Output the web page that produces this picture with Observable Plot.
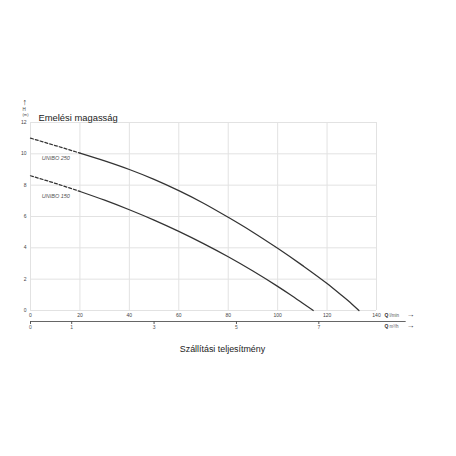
<!DOCTYPE html>
<html><head><meta charset="utf-8">
<script src="https://cdn.jsdelivr.net/npm/d3@7"></script>
<script src="https://cdn.jsdelivr.net/npm/@observablehq/plot@0.6"></script>
<style>body{margin:0;background:#fff;} svg{display:block}</style>
</head><body><div id="chart"></div>
<script>
// Data
const flowUnibo250 = [0, 10, 20, 30, 40, 50, 60, 70, 80, 90, 100, 110, 120, 125, 130, 132.9];
const headUnibo250 = [11.0, 10.53, 10.05, 9.55, 9.0, 8.37, 7.65, 6.85, 5.95, 5.0, 3.97, 2.88, 1.72, 1.08, 0.42, 0];
const flowUnibo150 = [0, 10, 20, 30, 40, 50, 60, 70, 80, 90, 100, 105, 110, 114.4];
const headUnibo150 = [8.6, 8.12, 7.6, 7.04, 6.43, 5.77, 5.05, 4.27, 3.43, 2.52, 1.54, 1.02, 0.48, 0];
const models = ["UNIBO 250", "UNIBO 150"];
const dashEnd = 20; // extrapolated (dashed) part ends here
const xTicks = [0, 20, 40, 60, 80, 100, 120, 140];
const yTicks = [0, 2, 4, 6, 8, 10, 12];
const m3hTicks = [0, 1, 3, 5, 7];
const axisEnd = 152; // lower axis line extends past the plot
const yTitle = "Emelési magasság";
const xTitle = "Szállítási teljesítmény";

const rows = [];
flowUnibo250.forEach((q, i) => rows.push({model: models[0], q, h: headUnibo250[i]}));
flowUnibo150.forEach((q, i) => rows.push({model: models[1], q, h: headUnibo150[i]}));
const dashedPart = rows.filter(d => d.q <= dashEnd);
const solidPart = rows.filter(d => d.q >= dashEnd);
const labelAnchors = rows.filter(d => d.q === dashEnd);

const lpmToM3h = v => v * 60 / 1000;
const m3hToLpm = v => v * 1000 / 60;

const small = 5;
const chart = Plot.plot({
  width: 456, height: 456,
  marginLeft: 30, marginRight: 80, marginTop: 122, marginBottom: 146,
  style: {fontFamily: "'Liberation Sans', Arial, sans-serif", background: "#fff", color: "#333"},
  x: {domain: [0, 140]},
  y: {domain: [0, 12]},
  marks: [
    Plot.gridX(xTicks, {stroke: "#e2e2e2", strokeOpacity: 1}),
    Plot.gridY(yTicks, {stroke: "#e2e2e2", strokeOpacity: 1}),
    Plot.axisY(yTicks, {tickSize: 0, tickPadding: 4, fontSize: small, label: null, color: "#444"}),
    Plot.axisX(xTicks, {tickSize: 0, tickPadding: 3, fontSize: small, label: null, color: "#444"}),
    Plot.ruleY([0], {x1: 0, x2: axisEnd, dy: 11, stroke: "#666", clip: false}),
    Plot.axisX(m3hTicks.map(m3hToLpm), {tickSize: 3, tickPadding: 1, dy: 11, fontSize: small, label: null, color: "#555",
      tickFormat: v => String(Math.round(lpmToM3h(v) * 10) / 10)}),
    Plot.line(dashedPart, {x: "q", y: "h", z: "model", stroke: "#333", strokeWidth: 1.25, strokeDasharray: "3,2", curve: "monotone-x"}),
    Plot.line(solidPart, {x: "q", y: "h", z: "model", stroke: "#333", strokeWidth: 1.25, curve: "monotone-x"}),
    Plot.text(labelAnchors, {x: "q", y: "h", text: "model", textAnchor: "end", dx: -10, dy: 5, fontSize: 5.5, fontStyle: "italic", fill: "#555"}),
    // axis titles and units
    Plot.text([yTitle], {frameAnchor: "top-left", dx: 8, dy: -8, textAnchor: "start", fontSize: 9.4, fill: "#222"}),
    Plot.text(["↑"], {frameAnchor: "top-left", dx: -8, dy: -24, fontSize: 9, fill: "#333"}),
    Plot.text(["H"], {frameAnchor: "top-left", dx: -8, dy: -15, fontSize: 4.5, fill: "#444"}),
    Plot.text(["(m)"], {frameAnchor: "top-left", dx: -8, dy: -9, fontSize: 4, fill: "#444"}),
    Plot.text(["Q"], {frameAnchor: "bottom-right", textAnchor: "start", dx: 8, dy: 6, fontSize: small, fontWeight: "bold", fill: "#333"}),
    Plot.text(["l/min"], {frameAnchor: "bottom-right", textAnchor: "start", dx: 13, dy: 6, fontSize: 4.5, fill: "#555"}),
    Plot.text(["→"], {frameAnchor: "bottom-right", textAnchor: "start", dx: 30, dy: 6, fontSize: 8, fill: "#333"}),
    Plot.text(["Q"], {frameAnchor: "bottom-right", textAnchor: "start", dx: 8, dy: 17, fontSize: small, fontWeight: "bold", fill: "#333"}),
    Plot.text(["m³/h"], {frameAnchor: "bottom-right", textAnchor: "start", dx: 13, dy: 17, fontSize: 4.5, fill: "#555"}),
    Plot.text(["→"], {frameAnchor: "bottom-right", textAnchor: "start", dx: 30, dy: 17, fontSize: 8, fill: "#333"}),
    Plot.text([xTitle], {frameAnchor: "bottom", dx: 19, dy: 41, fontSize: 8.9, fill: "#222"})
  ]
});
document.getElementById("chart").append(chart);
</script>
</body></html>
